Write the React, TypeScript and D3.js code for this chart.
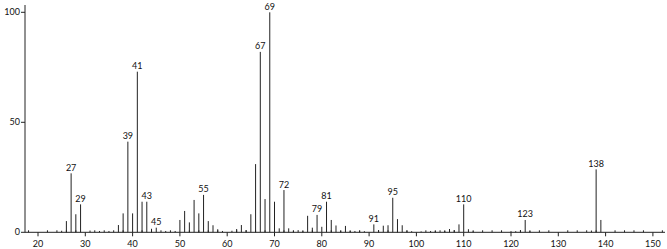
import React from "react";
import * as d3 from "d3";

const masses = [25, 26, 27, 28, 29, 31, 33, 35, 37, 38, 39, 40, 41, 42, 43, 44, 45, 47, 49,
  50, 51, 52, 53, 54, 55, 56, 57, 58, 59, 61, 62, 63, 64, 65, 66, 67, 68, 69, 70, 71, 72, 73, 74, 75, 76,
  77, 78, 79, 80, 81, 82, 83, 84, 85, 86, 87, 88, 89, 91, 92, 93, 94, 95, 96, 97, 98, 99,
  101, 103, 104, 105, 106, 107, 108, 109, 110, 111, 112, 120, 121, 122, 123, 124, 137, 138, 139];
const intensities = [0.7, 5.1, 26.8, 8.2, 12.7, 0.8, 0.6, 0.6, 3.3, 8.6, 41.2, 8.6, 73, 13.9, 13.9, 1.6, 2.1, 0.6, 0.6,
  5.6, 9.7, 4.5, 14.7, 8.6, 17, 5.1, 3.2, 1.4, 0.6, 0.7, 1.5, 3.3, 1, 8.2, 31, 82, 15.1, 100, 13.9, 1.8, 19.2, 1.8, 0.7, 1, 0.5,
  7.5, 2.1, 7.9, 2.5, 13.9, 5.6, 3.1, 0.7, 2.9, 0.6, 0.6, 0.7, 0.5, 3.6, 1, 3, 3.2, 15.7, 6, 3.2, 0.8, 0.5,
  0.4, 0.6, 0.6, 0.9, 0.6, 1.5, 1, 3.6, 12.7, 1.4, 0.4, 0.5, 0.5, 1, 5.6, 0.5, 0.8, 28.6, 5.6];
const labeledPeaks = [27, 29, 39, 41, 43, 45, 55, 67, 69, 72, 79, 81, 91, 95, 110, 123, 138];
const xTicks = [20, 30, 40, 50, 60, 70, 80, 90, 100, 110, 120, 130, 140, 150];
const yTicks = [0, 50, 100];

export default function App() {
  const x = d3.scaleLinear().domain([20, 150]).range([38, 652.9]);
  const y = d3.scaleLinear().domain([0, 100]).range([232.3, 12.3]);
  const x0 = 25;
  const xEnd = 665;
  const minor = d3.range(18, 153, 2).filter((m) => m % 10 !== 0 && x(m) > x0 + 1 && x(m) < xEnd);
  const font = "Lato, 'Open Sans', sans-serif";
  const data = masses.map((m, i) => ({ m, v: intensities[i] }));
  return (
    <svg width={667} height={249} style={{ position: "absolute", left: 0, top: 0, background: "#fff" }}>
      {data.map((d) => (
        <line key={d.m} x1={x(d.m)} x2={x(d.m)} y1={y(0)} y2={y(d.v)} stroke="#222" strokeWidth={1} />
      ))}
      <line x1={x0} x2={xEnd} y1={y(0)} y2={y(0)} stroke="#222" strokeWidth={1} />
      <line x1={x0} x2={x0} y1={y(0)} y2={5} stroke="#222" strokeWidth={1} />
      {xTicks.map((t) => (
        <g key={t}>
          <line x1={x(t)} x2={x(t)} y1={y(0)} y2={y(0) + 4} stroke="#222" />
          <text x={x(t)} y={247} textAnchor="middle" fontSize={9} fontFamily={font} fill="#111">
            {t}
          </text>
        </g>
      ))}
      {minor.map((t) => (
        <line key={t} x1={x(t)} x2={x(t)} y1={y(0)} y2={y(0) - 2} stroke="#222" />
      ))}
      {yTicks.map((t) => (
        <g key={t}>
          <line x1={x0 - 4} x2={x0} y1={y(t)} y2={y(t)} stroke="#222" />
          <text x={x0 - 5} y={y(t) + 3} textAnchor="end" fontSize={9} fontFamily={font} fill="#111">
            {t}
          </text>
        </g>
      ))}
      {labeledPeaks.map((m) => {
        const v = intensities[masses.indexOf(m)];
        return (
          <text key={m} x={x(m)} y={y(v) - 2.5} textAnchor="middle" fontSize={9} fontFamily={font} fill="#111">
            {m}
          </text>
        );
      })}
    </svg>
  );
}
